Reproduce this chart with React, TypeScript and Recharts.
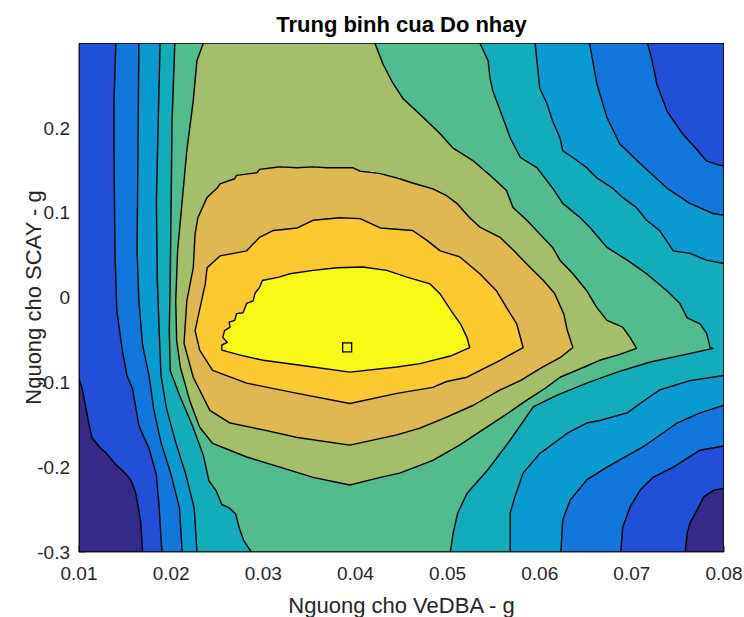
import { ScatterChart, Scatter, XAxis, YAxis } from "recharts";

type Pt = [number, number];

const FONT = '"Liberation Sans", Arial, Helvetica, sans-serif';
const AXIS_COLOR = "#262626";

const X_MIN = 0.01;
const X_MAX = 0.08;
const Y_MIN = -0.3;
const Y_MAX = 0.3;

const xTicks = [0.01, 0.02, 0.03, 0.04, 0.05, 0.06, 0.07, 0.08];
const yTicks = [-0.3, -0.2, -0.1, 0, 0.1, 0.2];

// contour level colours, lowest to highest
const levelColors = [
  "#352a87", "#2150d6", "#1277da", "#099bd0", "#12acba",
  "#52bc8e", "#a4be6a", "#dfb852", "#fcc931", "#f8f917",
];

// contour lines, [VeDBA, SCAY]
const navyLeft: Pt[] = [[0.0100, -0.095], [0.0104, -0.110], [0.0110, -0.145], [0.0114, -0.165], [0.0122, -0.176], [0.0130, -0.184], [0.0140, -0.197], [0.0150, -0.207], [0.0156, -0.215], [0.0161, -0.228], [0.0164, -0.245], [0.0167, -0.265], [0.0169, -0.3]];
const navyRight: Pt[] = [[0.08, -0.225], [0.0789, -0.227], [0.0778, -0.235], [0.0771, -0.250], [0.0763, -0.266], [0.0760, -0.278], [0.0758, -0.3]];

const lineA: Pt[] = [[0.0140, 0.3], [0.0138, 0.232], [0.0138, 0.173], [0.0139, 0.055], [0.0141, -0.015], [0.0147, -0.062], [0.0152, -0.092], [0.0158, -0.107], [0.0165, -0.151], [0.0176, -0.178], [0.0184, -0.209], [0.0187, -0.248], [0.0190, -0.3]];
const mbTop: Pt[] = [[0.0717, 0.3], [0.0722, 0.279], [0.0727, 0.252], [0.0738, 0.22], [0.0755, 0.193], [0.0770, 0.175], [0.0781, 0.161], [0.0792, 0.157], [0.08, 0.155]];
const mbBottom: Pt[] = [[0.08, -0.175], [0.0774, -0.18], [0.0745, -0.2], [0.0723, -0.212], [0.0709, -0.227], [0.0698, -0.247], [0.0690, -0.271], [0.0688, -0.3]];

const lineB: Pt[] = [[0.0165, 0.3], [0.0164, 0.173], [0.0163, 0.055], [0.0165, -0.004], [0.0169, -0.056], [0.0176, -0.092], [0.0181, -0.131], [0.0189, -0.171], [0.0200, -0.209], [0.0209, -0.248], [0.0212, -0.3]];
const cyanTop: Pt[] = [[0.0654, 0.3], [0.0662, 0.252], [0.0673, 0.212], [0.0687, 0.181], [0.0709, 0.158], [0.0738, 0.129], [0.0763, 0.111], [0.0788, 0.099], [0.08, 0.097]];
const cyanBottom: Pt[] = [[0.08, -0.127], [0.0774, -0.136], [0.0749, -0.148], [0.0723, -0.168], [0.0712, -0.176], [0.0673, -0.2], [0.0651, -0.215], [0.0633, -0.239], [0.0625, -0.262], [0.0623, -0.3]];

const lineC: Pt[] = [[0.0188, 0.3], [0.0186, 0.208], [0.0184, 0.114], [0.0185, 0.02], [0.0187, -0.039], [0.0189, -0.092], [0.0195, -0.131], [0.0205, -0.171], [0.0216, -0.209], [0.0225, -0.248], [0.0228, -0.3]];
const tealTop: Pt[] = [[0.0595, 0.3], [0.0597, 0.279], [0.0600, 0.247], [0.0608, 0.228], [0.0614, 0.208], [0.0622, 0.188], [0.0625, 0.173], [0.0636, 0.165], [0.0651, 0.153], [0.0662, 0.141], [0.0679, 0.129], [0.0690, 0.118], [0.0705, 0.106], [0.0716, 0.091], [0.0730, 0.079], [0.0745, 0.055], [0.0763, 0.052], [0.0781, 0.044], [0.08, 0.04]];
const tealBottom: Pt[] = [[0.08, -0.092], [0.0763, -0.098], [0.0730, -0.109], [0.0709, -0.125], [0.0695, -0.136], [0.0665, -0.145], [0.0651, -0.148], [0.0630, -0.16], [0.0600, -0.184], [0.0582, -0.207], [0.0573, -0.235], [0.0568, -0.254], [0.0568, -0.3]];

const lineD: Pt[] = [[0.0204, 0.3], [0.0201, 0.208], [0.0200, 0.114], [0.0199, 0.02], [0.0198, -0.039], [0.0199, -0.086], [0.0209, -0.115], [0.0223, -0.151], [0.0235, -0.186], [0.0241, -0.216], [0.0249, -0.228], [0.0255, -0.244], [0.0263, -0.248], [0.0270, -0.255], [0.0274, -0.272], [0.0279, -0.287], [0.0287, -0.3]];
const greenTop: Pt[] = [[0.0535, 0.3], [0.0544, 0.279], [0.0546, 0.259], [0.0549, 0.244], [0.0560, 0.212], [0.0568, 0.188], [0.0579, 0.165], [0.0597, 0.153], [0.0614, 0.129], [0.0625, 0.111], [0.0644, 0.094], [0.0655, 0.082], [0.0673, 0.059], [0.0695, 0.044], [0.0716, 0.028], [0.0738, 0.008], [0.0752, -0.007], [0.0760, -0.024], [0.0774, -0.031], [0.0781, -0.042], [0.0785, -0.059], [0.0788, -0.06]];
const greenBottom: Pt[] = [[0.0755, -0.068], [0.0720, -0.076], [0.0684, -0.088], [0.0651, -0.101], [0.0619, -0.115], [0.0593, -0.129], [0.0568, -0.168], [0.0543, -0.204], [0.0521, -0.231], [0.0511, -0.254], [0.0506, -0.278], [0.0503, -0.3]];

const oliveTop: Pt[] = [[0.0421, 0.3], [0.0430, 0.275], [0.0441, 0.252], [0.0452, 0.234], [0.0470, 0.216], [0.0492, 0.193], [0.0506, 0.176], [0.0528, 0.161], [0.0546, 0.144], [0.0564, 0.126], [0.0571, 0.106], [0.0586, 0.091], [0.0600, 0.075], [0.0614, 0.059], [0.0622, 0.044], [0.0636, 0.028], [0.0651, 0.008], [0.0662, -0.012], [0.0673, -0.027], [0.0690, -0.035], [0.0698, -0.047], [0.0705, -0.06]];
const oliveBottom: Pt[] = [[0.0687, -0.067], [0.0665, -0.074], [0.0644, -0.084], [0.0622, -0.094], [0.0606, -0.107], [0.0586, -0.121], [0.0562, -0.139], [0.0538, -0.156], [0.0513, -0.174], [0.0484, -0.192], [0.0448, -0.207], [0.0427, -0.212], [0.0394, -0.221], [0.0354, -0.212], [0.0318, -0.2], [0.0282, -0.188], [0.0245, -0.172], [0.0231, -0.153], [0.0220, -0.121], [0.0210, -0.082]];
const oliveLeft: Pt[] = [[0.0206, -0.051], [0.0205, -0.004], [0.0207, 0.055], [0.0212, 0.114], [0.0217, 0.173], [0.0224, 0.232], [0.0228, 0.279], [0.0235, 0.3]];

const tanRing: Pt[] = [[0.0214, -0.054], [0.0217, -0.004], [0.0224, 0.035], [0.0226, 0.075], [0.0229, 0.094], [0.0239, 0.118], [0.0250, 0.129], [0.0253, 0.134], [0.0269, 0.14], [0.0271, 0.144], [0.0293, 0.147], [0.0296, 0.151], [0.0310, 0.153], [0.0318, 0.154], [0.0337, 0.153], [0.0354, 0.154], [0.0369, 0.153], [0.0397, 0.153], [0.0405, 0.149], [0.0427, 0.146], [0.0448, 0.14], [0.0462, 0.135], [0.0484, 0.128], [0.0499, 0.12], [0.0510, 0.111], [0.0524, 0.094], [0.0535, 0.083], [0.0557, 0.071], [0.0572, 0.055], [0.0590, 0.035], [0.0604, 0.02], [0.0616, 0.005], [0.0626, -0.019], [0.0630, -0.039], [0.0636, -0.059], [0.0622, -0.071], [0.0603, -0.082], [0.0579, -0.098], [0.0557, -0.109], [0.0528, -0.127], [0.0499, -0.141], [0.0470, -0.154], [0.0445, -0.162], [0.0394, -0.174], [0.0337, -0.165], [0.0300, -0.156], [0.0264, -0.148], [0.0242, -0.133], [0.0224, -0.094]];

const goldRing: Pt[] = [[0.0229, -0.024], [0.0237, 0.016], [0.0239, 0.035], [0.0253, 0.049], [0.0282, 0.055], [0.0296, 0.071], [0.0311, 0.079], [0.0337, 0.082], [0.0354, 0.091], [0.0383, 0.094], [0.0405, 0.093], [0.0427, 0.082], [0.0462, 0.079], [0.0478, 0.067], [0.0492, 0.055], [0.0513, 0.048], [0.0535, 0.028], [0.0553, 0.008], [0.0564, -0.012], [0.0575, -0.031], [0.0582, -0.059], [0.0557, -0.074], [0.0521, -0.094], [0.0499, -0.099], [0.0484, -0.106], [0.0445, -0.113], [0.0394, -0.125], [0.0337, -0.113], [0.0282, -0.101], [0.0245, -0.086], [0.0231, -0.062], [0.0226, -0.039]];

const yellowRing: Pt[] = [[0.0255, -0.062], [0.0255, -0.056], [0.0261, -0.053], [0.0256, -0.047], [0.0258, -0.039], [0.0264, -0.035], [0.0263, -0.029], [0.0269, -0.027], [0.0271, -0.019], [0.0278, -0.018], [0.0282, -0.007], [0.0289, -0.004], [0.0291, 0.005], [0.0296, 0.012], [0.0299, 0.02], [0.0317, 0.024], [0.0329, 0.028], [0.0354, 0.032], [0.0380, 0.035], [0.0408, 0.036], [0.0434, 0.032], [0.0456, 0.024], [0.0481, 0.016], [0.0492, 0.004], [0.0506, -0.019], [0.0514, -0.031], [0.0521, -0.047], [0.0524, -0.059], [0.0503, -0.069], [0.0470, -0.078], [0.0445, -0.082], [0.0394, -0.088], [0.0354, -0.082], [0.0300, -0.074], [0.0275, -0.068]];

// best threshold pair
const bestPoint = { x: 0.0391, y: -0.0588 };

const rev = (a: Pt[]) => [...a].reverse();

// filled region for each level (value >= level)
const regions: Pt[][] = [
  [[X_MIN, Y_MIN], [X_MIN, Y_MAX], [X_MAX, Y_MAX], [X_MAX, Y_MIN]],
  [[X_MIN, Y_MAX], [X_MAX, Y_MAX], ...navyRight, ...rev(navyLeft)],
  [...mbTop, ...mbBottom, ...rev(lineA)],
  [...cyanTop, ...cyanBottom, ...rev(lineB)],
  [...tealTop, ...tealBottom, ...rev(lineC)],
  [...greenTop, ...greenBottom, ...rev(lineD)],
  [...oliveTop, ...oliveBottom, ...oliveLeft],
  tanRing,
  goldRing,
  yellowRing,
];

const toPath = (pts: { x: number; y: number }[]) =>
  "M" + pts.map((p) => `${p.x},${p.y}`).join("L") + "Z";

const NoDot = () => <g />;

const BestMarker = (p: any) => (
  <rect x={p.cx - 4.5} y={p.cy - 4.5} width={9} height={9} fill="none" stroke="#000" strokeWidth={1.3} />
);

const XLabel = (p: any) => {
  const vb = p.viewBox;
  return (
    <text x={vb.x + vb.width / 2} y={vb.y + vb.height - 4} textAnchor="middle" fontSize={22} fontFamily={FONT} fill={AXIS_COLOR}>
      Nguong cho VeDBA - g
    </text>
  );
};

const YLabel = (p: any) => {
  const vb = p.viewBox;
  const x = vb.x + 41;
  const y = vb.y + vb.height / 2;
  return (
    <text x={x} y={y} transform={`rotate(-90, ${x}, ${y})`} textAnchor="middle" fontSize={22} fontFamily={FONT} fill={AXIS_COLOR}>
      Nguong cho SCAY - g
    </text>
  );
};

const tickStyle = { fontSize: 19, fill: AXIS_COLOR, fontFamily: FONT };

export default function App() {
  return (
    <div style={{ position: "absolute", left: 0, top: 0, width: 744, height: 617, background: "#fff" }}>
      <div
        style={{
          position: "absolute", left: 79, top: 14, width: 645, textAlign: "center",
          fontFamily: FONT, fontWeight: "bold", fontSize: 22, lineHeight: "21px", color: "#000",
        }}
      >
        Trung binh cua Do nhay
      </div>
      <ScatterChart width={744} height={617} margin={{ top: 43, right: 20, bottom: 0, left: 0 }}>
        {regions.map((reg, i) => (
          <Scatter
            key={i}
            data={reg.map(([x, y]) => ({ x, y }))}
            isAnimationActive={false}
            shape={NoDot}
            line={(lp: any) => (
              <path d={toPath(lp.points)} fill={levelColors[i]} stroke="#000" strokeWidth={1.4} strokeLinejoin="round" />
            )}
          />
        ))}
        <Scatter data={[bestPoint]} isAnimationActive={false} shape={BestMarker} />

        <XAxis
          type="number" dataKey="x" domain={[X_MIN, X_MAX]} ticks={xTicks} interval={0} allowDataOverflow
          height={65} tickSize={-6} tickMargin={21}
          axisLine={{ stroke: AXIS_COLOR }} tickLine={{ stroke: AXIS_COLOR }} tick={tickStyle}
          label={{ content: XLabel }}
        />
        <XAxis
          xAxisId="top" orientation="top" type="number" domain={[X_MIN, X_MAX]} ticks={xTicks} interval={0} allowDataOverflow
          height={0} tickSize={-6} tick={false}
          axisLine={{ stroke: AXIS_COLOR }} tickLine={{ stroke: AXIS_COLOR }}
        />
        <YAxis
          type="number" dataKey="y" domain={[Y_MIN, Y_MAX]} ticks={yTicks} interval={0} allowDataOverflow
          width={79} tickSize={-6} tickMargin={15}
          axisLine={{ stroke: AXIS_COLOR }} tickLine={{ stroke: AXIS_COLOR }} tick={tickStyle}
          label={{ content: YLabel }}
        />
        <YAxis
          yAxisId="right" orientation="right" type="number" domain={[Y_MIN, Y_MAX]} ticks={yTicks} interval={0} allowDataOverflow
          width={0} tickSize={-6} tick={false}
          axisLine={{ stroke: AXIS_COLOR }} tickLine={{ stroke: AXIS_COLOR }}
        />
      </ScatterChart>
    </div>
  );
}
